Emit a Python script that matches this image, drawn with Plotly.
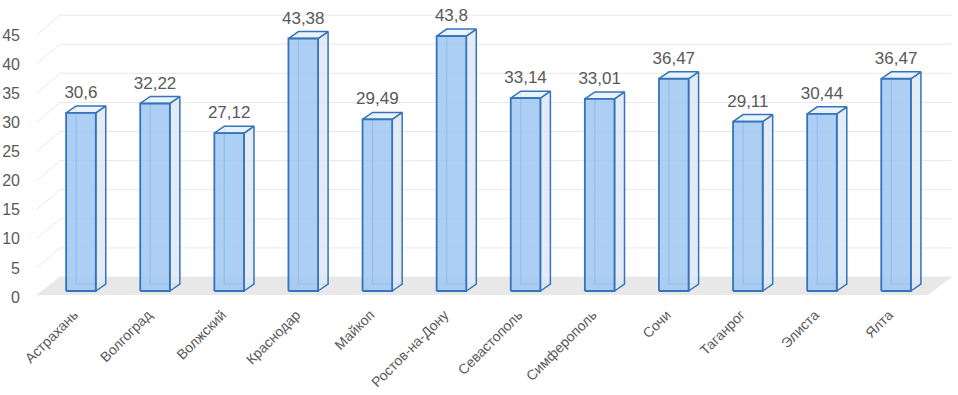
import plotly.graph_objects as go

categories = ["Астрахань", "Волгоград", "Волжский", "Краснодар", "Майкоп", "Ростов-на-Дону",
              "Севастополь", "Симферополь", "Сочи", "Таганрог", "Элиста", "Ялта"]
values = [30.6, 32.22, 27.12, 43.38, 29.49, 43.8, 33.14, 33.01, 36.47, 29.11, 30.44, 36.47]
value_labels = ["30,6", "32,22", "27,12", "43,38", "29,49", "43,8", "33,14", "33,01",
                "36,47", "29,11", "30,44", "36,47"]
y_ticks = [0, 5, 10, 15, 20, 25, 30, 35, 40, 45]

# geometry (in data units)
XMIN, XMAX = -0.62, 11.795
YMIN, YMAX = -1.546, 49.14
HALF_W = 0.2        # half width of bar front face
DX, DY = 0.135, 1.2  # depth offset of bar
LABEL_SHIFT = 1.03   # tick labels sit a bit below the bar scale (perspective)
WALL_DX, WALL_DY = 0.337, 2.4
FLOOR_FRONT = -0.69

xs = list(range(len(categories)))
fig = go.Figure()

# slanted gridlines
gx, gy = [], []
for v in y_ticks:
    gx += [XMIN + 0.02, XMIN + WALL_DX, 11.75, None]
    gy += [v - LABEL_SHIFT, v + WALL_DY, v + WALL_DY, None]
fig.add_trace(go.Scatter(x=gx, y=gy, mode="lines", line=dict(color="#e8e8e8", width=1),
                         hoverinfo="skip", showlegend=False))

# floor
fig.add_trace(go.Scatter(
    x=[XMIN + 0.02, XMIN + WALL_DX, 11.755, 11.43, XMIN + 0.02],
    y=[FLOOR_FRONT, WALL_DY, WALL_DY, FLOOR_FRONT, FLOOR_FRONT],
    mode="lines", fill="toself", fillcolor="#e8e8e8", line=dict(width=0),
    hoverinfo="skip", showlegend=False))

EDGE = "#3574bb"
# back (hidden) edges seen through the transparent bars
bx, by = [], []
for x, v in zip(xs, values):
    l = x - HALF_W
    r = x + HALF_W
    bx += [l + DX, l + DX, r + DX, None]
    by += [v + DY, DY, DY, None]
fig.add_trace(go.Scatter(x=bx, y=by, mode="lines", line=dict(color="#5a95d2", width=1.2),
                         hoverinfo="skip", showlegend=False))

for x, v in zip(xs, values):
    r = x + HALF_W
    l = x - HALF_W
    # side face
    fig.add_trace(go.Scatter(
        x=[r, r + DX, r + DX, r, r], y=[0, DY, v + DY, v, 0],
        mode="lines", fill="toself", fillcolor="rgba(222,233,245,0.85)",
        line=dict(color=EDGE, width=1.5), hoverinfo="skip", showlegend=False))
    # top face
    fig.add_trace(go.Scatter(
        x=[l, l + DX, r + DX, r, l], y=[v, v + DY, v + DY, v, v],
        mode="lines", fill="toself", fillcolor="rgba(232,241,251,0.9)",
        line=dict(color=EDGE, width=1.5), hoverinfo="skip", showlegend=False))
    # front face
    fig.add_trace(go.Scatter(
        x=[l, r, r, l, l], y=[0, 0, v, v, 0],
        mode="lines", fill="toself", fillcolor="rgba(158,199,241,0.85)",
        line=dict(color=EDGE, width=1.8), hoverinfo="skip", showlegend=False))

# value labels
fig.add_trace(go.Scatter(
    x=xs, y=[v + 3.3 for v in values], text=value_labels, mode="text",
    textposition="middle center",
    textfont=dict(family="Liberation Sans", size=17, color="#595959"),
    hoverinfo="skip", showlegend=False))

# invisible trace on yaxis2 to carry tick labels
fig.add_trace(go.Scatter(x=[0], y=[0], yaxis="y2", mode="markers",
                         marker=dict(opacity=0), hoverinfo="skip", showlegend=False))

fig.update_layout(
    width=958, height=395,
    margin=dict(l=35, r=3, t=5, b=95, autoexpand=False),
    paper_bgcolor="white", plot_bgcolor="white",
    xaxis=dict(range=[XMIN, XMAX], tickmode="array", tickvals=xs, ticktext=categories,
               tickangle=-45, showgrid=False, zeroline=False, showline=False,
               tickfont=dict(family="Liberation Sans", size=14, color="#595959"),
               ticks="", ticklabelstandoff=3, ticklabelshift=-7, automargin=False),
    yaxis=dict(range=[YMIN, YMAX], showgrid=False, zeroline=False, showticklabels=False,
               showline=False, automargin=False),
    yaxis2=dict(range=[YMIN + LABEL_SHIFT, YMAX + LABEL_SHIFT], overlaying="y", side="left",
                tickmode="array", tickvals=y_ticks, ticktext=[str(t) for t in y_ticks],
                showgrid=False, zeroline=False, showline=False, automargin=False,
                tickfont=dict(family="Liberation Sans", size=16, color="#595959"),
                ticklabelstandoff=14),
)

fig.write_html("out.html", post_script="document.body.style.margin='0';",
               config={"displayModeBar": False})
